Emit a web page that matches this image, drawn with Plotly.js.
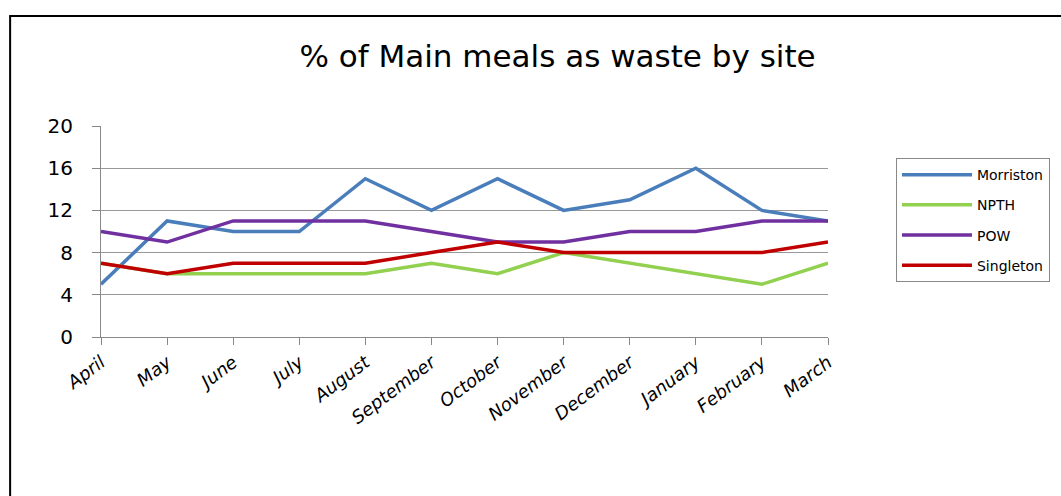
<!DOCTYPE html>
<html>
<head>
<meta charset="utf-8">
<script src="https://cdn.plot.ly/plotly-3.0.1.min.js"></script>
<style>html,body{margin:0;padding:0;background:#fff;}#chart{width:1061px;height:496px;}</style>
</head>
<body>
<div id="chart"></div>
<script>
const months = ["April","May","June","July","August","September","October","November","December","January","February","March"];
const morriston = [5,11,10,10,15,12,15,12,13,16,12,11];
const npth      = [7,6,6,6,6,7,6,8,7,6,5,7];
const pow       = [10,9,11,11,11,10,9,9,10,10,11,11];
const singleton = [7,6,7,7,7,8,9,8,8,8,8,9];
const seriesNames = ["Morriston","NPTH","POW","Singleton"];
const colors = ["#4A7EBB","#92D050","#7030A0","#C00000"];
const yTicks = [0,4,8,12,16,20];

const data = [morriston, npth, pow, singleton].map((vals, i) => ({
  type: "scatter", mode: "lines", name: seriesNames[i], legendgroup: "g" + i,
  x: months, y: vals,
  line: {color: colors[i], width: 3.5}
}));

const layout = {
  width: 1061, height: 496, autosize: false,
  margin: {l: 101, r: 232, t: 126, b: 159},
  paper_bgcolor: "#fff", plot_bgcolor: "#fff",
  title: {text: "% of Main meals as waste by site", x: 0.628, xref: "paper", xanchor: "center",
          y: 0.887, yref: "container", yanchor: "middle",
          font: {family: "DejaVu Sans, sans-serif", size: 31, color: "#000"}},
  xaxis: {
    type: "category", range: [0, 11], showgrid: false, zeroline: false,
    showline: true, linecolor: "#888", linewidth: 1,
    ticks: "outside", ticklen: 7, tickcolor: "#888",
    tickangle: -37,
    tickfont: {family: "DejaVu Sans, sans-serif", size: 18, color: "#000", style: "italic"}
  },
  yaxis: {
    range: [0, 20], tickvals: yTicks, showgrid: true, gridcolor: "#999", gridwidth: 1,
    zeroline: false, showline: true, linecolor: "#888", linewidth: 1,
    ticks: "outside", ticklen: 8, tickcolor: "#888", ticklabelstandoff: 15,
    tickfont: {family: "DejaVu Sans, sans-serif", size: 20, color: "#000"}
  },
  legend: {
    x: 1.092, y: 0.848, xanchor: "left", yanchor: "top",
    bordercolor: "#888", borderwidth: 1, bgcolor: "#fff",
    font: {family: "DejaVu Sans, sans-serif", size: 14, color: "#000"},
    tracegroupgap: 9, itemwidth: 70
  },
  shapes: [{
    type: "rect", xref: "paper", yref: "paper",
    x0: -0.125, x1: 1.5, y0: -1, y1: 1.521,
    line: {color: "#000", width: 2}, fillcolor: "rgba(0,0,0,0)", layer: "below"
  }],
  showlegend: true
};

Plotly.newPlot("chart", data, layout, {displayModeBar: false, staticPlot: true});
</script>
</body>
</html>
